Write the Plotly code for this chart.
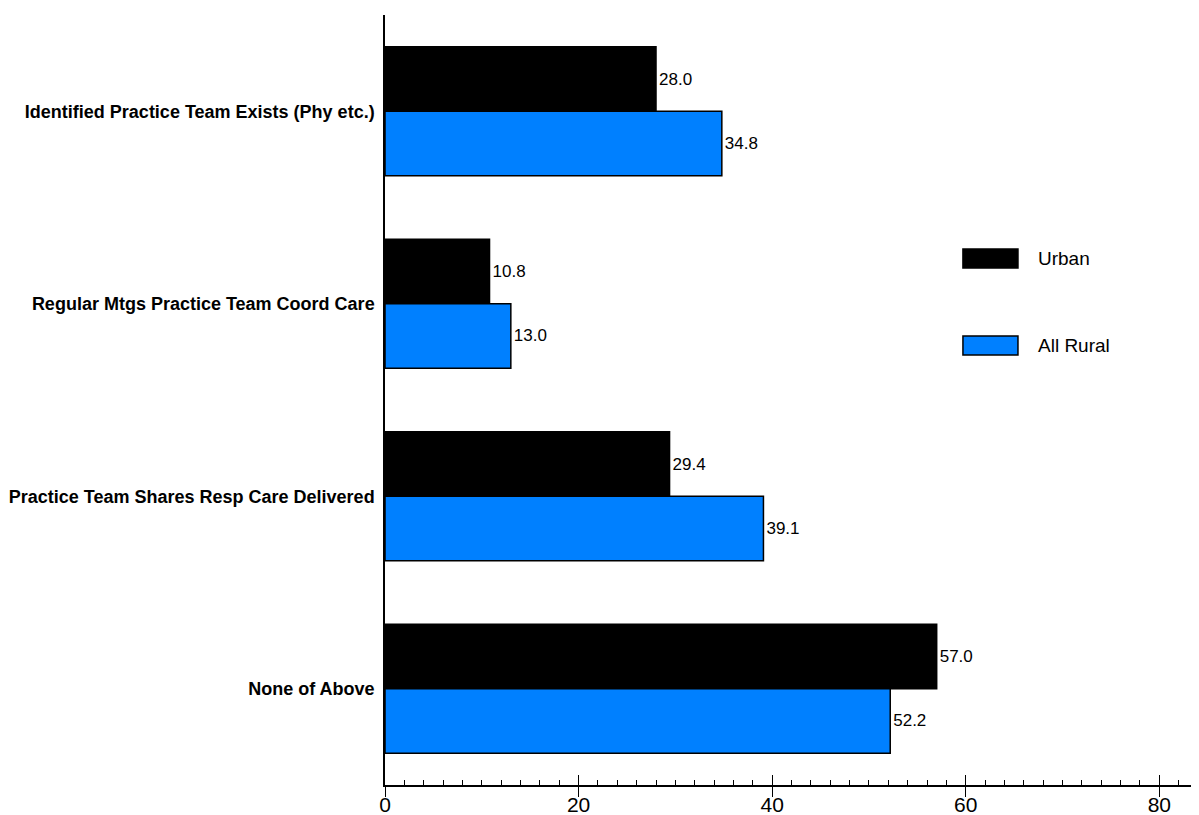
import plotly.graph_objects as go

categories = [
    "Identified Practice Team Exists (Phy etc.)",
    "Regular Mtgs Practice Team Coord Care",
    "Practice Team Shares Resp Care Delivered",
    "None of Above",
]
urban = [28.0, 10.8, 29.4, 57.0]
rural = [34.8, 13.0, 39.1, 52.2]
series_names = ["Urban", "All Rural"]
colors = ["#000000", "#0080FF"]
x_ticks = [0, 20, 40, 60, 80]

FONT = "Liberation Sans, Arial, Helvetica, sans-serif"

fig = go.Figure()
for name, vals, col in zip(series_names, [urban, rural], colors):
    fig.add_trace(go.Bar(
        y=categories, x=vals, name=name, orientation="h",
        marker=dict(color=col, line=dict(color="#000000", width=1.5)),
        text=[f"{v:.1f}" for v in vals], textposition="outside",
        textfont=dict(family=FONT, size=17, color="#000000"),
        cliponaxis=False, showlegend=False,
    ))

# overlay axis for the outer half of major ticks
fig.add_trace(go.Scatter(x=[None], y=[None], xaxis="x2", yaxis="y",
                         showlegend=False, hoverinfo="skip"))

fig.update_layout(
    width=1191, height=807,
    margin=dict(l=377, r=0, t=7, b=30, autoexpand=False),
    paper_bgcolor="white", plot_bgcolor="white",
    barmode="group", bargap=0.33, bargroupgap=0,
    font=dict(family=FONT, color="#000000"),
    xaxis=dict(
        range=[0, 84.1], tickvals=x_ticks, showgrid=False, zeroline=False,
        showline=True, linecolor="#000000", linewidth=1.5, automargin=False,
        ticks="inside", ticklen=10, tickwidth=1, tickcolor="#000000",
        tickfont=dict(family=FONT, size=21, color="#000000"),
        minor=dict(dtick=2, ticks="inside", ticklen=5, tickwidth=1,
                   tickcolor="#000000", showgrid=False),
    ),
    xaxis2=dict(
        overlaying="x", matches="x", anchor="y", side="bottom",
        range=[0, 84.1], tickvals=x_ticks, showgrid=False, zeroline=False,
        showline=False, showticklabels=False, automargin=False,
        ticks="outside", ticklen=11, tickwidth=1, tickcolor="#000000",
    ),
    yaxis=dict(
        autorange="reversed", showgrid=False, zeroline=False,
        showline=True, linecolor="#000000", linewidth=1.5, automargin=False,
        ticks="", ticklabelstandoff=5,
        tickfont=dict(family="Liberation Sans, Arial", size=18, color="#000000", weight="bold"),
    ),
)

# custom legend
legend_y = [0.6838, 0.5708]
for name, col, yy in zip(series_names, colors, legend_y):
    fig.add_shape(type="rect", xref="paper", yref="paper",
                  x0=0.710, x1=0.7776, y0=yy - 0.0123, y1=yy + 0.0123,
                  fillcolor=col, line=dict(color="#000000", width=1.5))
    fig.add_annotation(xref="paper", yref="paper", x=0.7998, y=yy,
                       text=name, showarrow=False, xanchor="left", yanchor="middle",
                       font=dict(family=FONT, size=19, color="#000000"))

fig.write_html("out.html")
